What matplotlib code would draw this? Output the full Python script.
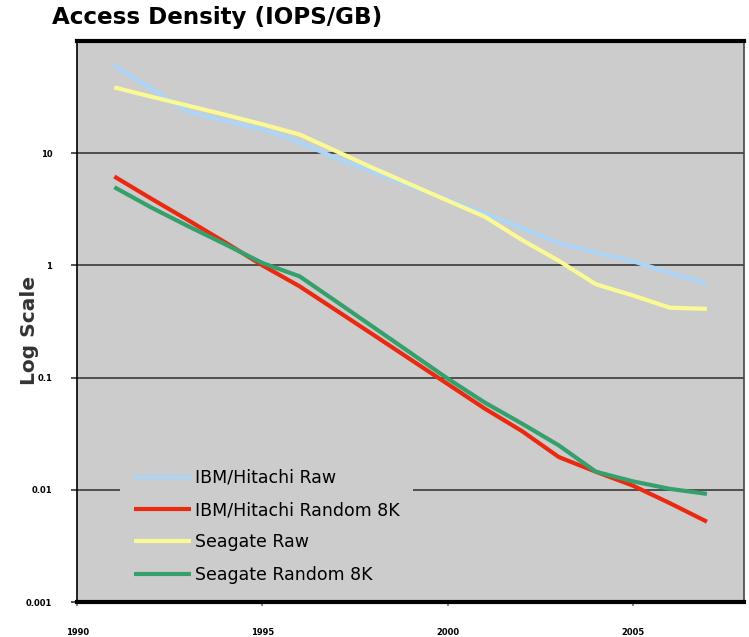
import matplotlib
matplotlib.use('Agg')
import matplotlib.pyplot as plt
from matplotlib.ticker import FixedLocator, NullLocator

# yearly access density, IOPS per GB
years = list(range(1991, 2008))
ibm_raw = [60.5, 37.6, 23.3, 19.4, 16.3, 12.5, 9.0, 6.8, 5.1, 3.86, 2.91, 2.16, 1.58, 1.30, 1.09, 0.86, 0.69]
ibm_random = [6.2, 3.93, 2.52, 1.60, 1.0, 0.652, 0.396, 0.24, 0.145, 0.0877, 0.053, 0.0335, 0.0196, 0.0145, 0.0109, 0.0076, 0.0052]
seagate_raw = [38.6, 31.9, 26.5, 22.0, 18.1, 14.7, 10.4, 7.35, 5.27, 3.78, 2.72, 1.69, 1.10, 0.68, 0.54, 0.42, 0.41]
seagate_random = [4.98, 3.28, 2.23, 1.54, 1.05, 0.80, 0.475, 0.281, 0.166, 0.098, 0.060, 0.039, 0.0249, 0.0145, 0.0119, 0.0102, 0.0092]

x_ticks = [1990, 1995, 2000, 2005]
y_ticks = [0.001, 0.01, 0.1, 1, 10]
y_tick_labels = ['0.001', '0.01', '0.1', '1', '10']

fig = plt.figure(figsize=(7.49, 6.37), dpi=100)
ax = fig.add_axes([0.1032, 0.0549, 0.8901, 0.8807])
ax.set_facecolor('#cccccc')

ax.plot(years, ibm_raw, color='#add5f7', lw=3, label='IBM/Hitachi Raw', solid_capstyle='butt')
ax.plot(years, ibm_random, color='#ea2a10', lw=3, label='IBM/Hitachi Random 8K', solid_capstyle='butt')
ax.plot(years, seagate_raw, color='#fbf896', lw=3, label='Seagate Raw', solid_capstyle='butt')
ax.plot(years, seagate_random, color='#35a06c', lw=3, label='Seagate Random 8K', solid_capstyle='butt')

ax.set_yscale('log')
ax.set_xlim(1990, 2008)
ax.set_ylim(0.001, 100)
ax.yaxis.set_major_locator(FixedLocator(y_ticks))
ax.yaxis.set_minor_locator(NullLocator())
ax.set_yticklabels(y_tick_labels)
ax.set_xticks(x_ticks)
ax.set_xticklabels([str(t) for t in x_ticks])

ax.grid(axis='y', color='#444444', lw=1.3)
ax.set_axisbelow(True)

for label in ax.get_xticklabels() + ax.get_yticklabels():
    label.set_fontweight('bold')
    label.set_fontsize(6)
ax.tick_params(axis='y', length=4, width=1.2, color='#333333', pad=14)
ax.tick_params(axis='x', length=3, width=1.2, color='#777777', pad=16)

ax.spines['top'].set_linewidth(3)
ax.spines['bottom'].set_linewidth(3)
ax.spines['left'].set_linewidth(1.2)
ax.spines['right'].set_linewidth(1.2)
ax.spines['right'].set_color('#444444')

ax.set_ylabel('Log Scale', fontsize=14.5, fontweight='bold', color='#333333', labelpad=2)
ax.yaxis.set_label_coords(-0.058, 0.485)

fig.text(0.069, 0.972, 'Access Density (IOPS/GB)', fontsize=16.6, fontweight='heavy',
         ha='left', va='center')

leg = ax.legend(loc='lower left', bbox_to_anchor=(0.064, 0.008), frameon=True, fontsize=12.5,
                handlelength=3.3, handletextpad=0.2, labelspacing=0.82, borderpad=0.8,
                borderaxespad=0)
leg.get_frame().set_facecolor('#cccccc')
leg.get_frame().set_edgecolor('none')
leg.get_frame().set_alpha(1)
for line in leg.get_lines():
    line.set_linewidth(3)

fig.savefig('out.png', dpi=100)
